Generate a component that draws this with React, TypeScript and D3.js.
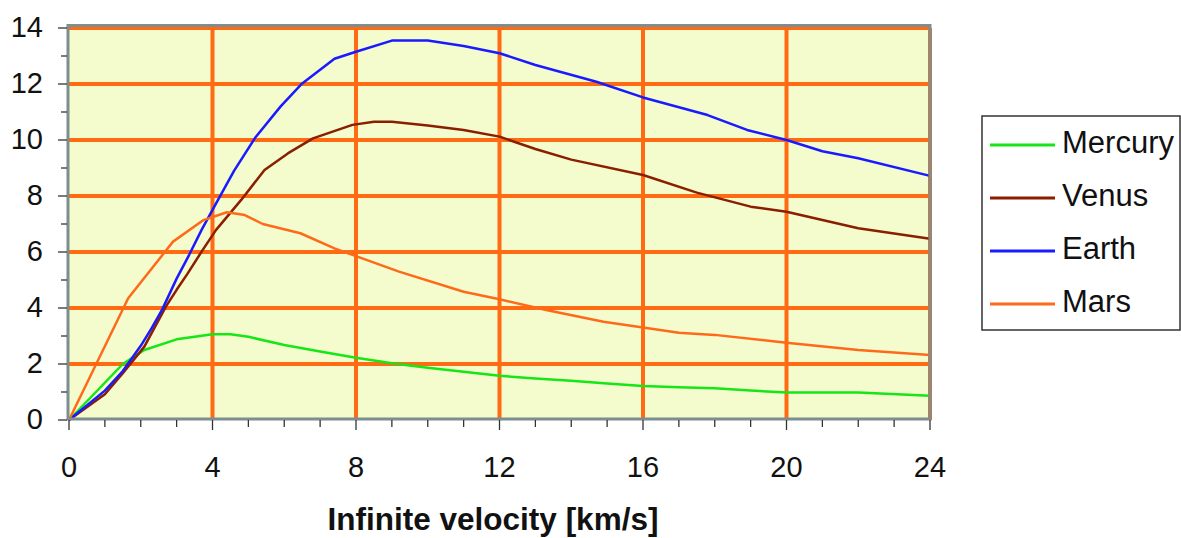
import * as d3 from "d3";

// [infinite velocity km/s, value]
const mercury: [number, number][] = [
  [0, 0], [1.5, 2.0], [2.1, 2.5], [3, 2.88], [4, 3.06], [4.5, 3.06], [5, 2.97],
  [6, 2.68], [7, 2.45], [8, 2.22], [9, 2.03], [10, 1.87], [11, 1.72], [12, 1.58],
  [13, 1.48], [14, 1.4], [15, 1.3], [16, 1.21], [17, 1.17], [18, 1.13], [19, 1.05],
  [20, 0.98], [22, 0.98], [24, 0.87],
];

const venus: [number, number][] = [
  [0, 0], [1, 0.92], [1.5, 1.67], [2.1, 2.62], [2.7, 4.05], [3.0, 4.65], [3.3, 5.22],
  [3.7, 6.02], [4.1, 6.79], [4.8, 7.86], [5.45, 8.93], [6.1, 9.52], [6.8, 10.06],
  [7.9, 10.54], [8.5, 10.65], [9, 10.65], [10, 10.52], [11, 10.36], [12, 10.12],
  [13, 9.68], [14, 9.3], [16, 8.75], [17.5, 8.12], [19, 7.62], [20, 7.44], [21, 7.14],
  [22, 6.85], [24, 6.47],
];

const earth: [number, number][] = [
  [0, 0], [1, 1.05], [1.5, 1.75], [2, 2.65], [2.3, 3.27], [2.6, 3.95], [3, 5.05],
  [3.35, 5.9], [3.7, 6.8], [4.15, 7.85], [4.6, 8.9], [5.2, 10.1], [5.9, 11.2],
  [6.5, 12.02], [7.4, 12.9], [8, 13.15], [9, 13.55], [10, 13.55], [11, 13.36],
  [12, 13.1], [13, 12.68], [14.7, 12.08], [16, 11.52], [17.8, 10.89], [18.9, 10.36],
  [20, 10.0], [21, 9.6], [22, 9.35], [24, 8.72],
];

const mars: [number, number][] = [
  [0, 0], [1.65, 4.35], [2.9, 6.37], [3.75, 7.14], [4.4, 7.42], [4.9, 7.32],
  [5.4, 7.0], [6.45, 6.67], [7.4, 6.13], [8, 5.85], [9.2, 5.3], [11, 4.58],
  [12, 4.31], [13.3, 3.93], [14.9, 3.51], [16, 3.3], [17, 3.12], [18, 3.04],
  [20, 2.76], [22, 2.5], [24, 2.32],
];

const seriesNames = ["Mercury", "Venus", "Earth", "Mars"];
const seriesColors = ["#16E616", "#8A1E00", "#1A1AFF", "#FF6A1A"];
const seriesData = [mercury, venus, earth, mars];

const xTickLabels = [0, 4, 8, 12, 16, 20, 24];
const yTickLabels = [0, 2, 4, 6, 8, 10, 12, 14];
const xTitle = "Infinite velocity [km/s]";

const width = 1181;
const height = 538;
const grid = "#FF6A13";
const font = "'Liberation Sans', Arial, sans-serif";

export default function App() {
  const x = d3.scaleLinear([0, 24], [69, 930]);
  const y = d3.scaleLinear([0, 14], [420, 28]);

  const line = d3
    .line<[number, number]>()
    .x((d) => x(d[0]))
    .y((d) => y(d[1]));

  const minorX = d3.range(0, 25);
  const minorY = d3.range(0, 15);

  return (
    <div style={{ position: "absolute", left: 0, top: 0 }}>
      <svg width={width} height={height} style={{ display: "block" }}>
        {/* plot background */}
        <rect x={x(0)} y={y(14) - 2} width={x(24) - x(0)} height={y(0) - y(14) + 1} fill="#F4FBCC" />

        {/* orange grid */}
        {yTickLabels.slice(1).map((t) => (
          <line key={"gy" + t} x1={x(0)} x2={x(24)} y1={y(t)} y2={y(t)} stroke={grid} strokeWidth={4} />
        ))}
        {xTickLabels.slice(1).map((t) => (
          <line key={"gx" + t} x1={x(t)} x2={x(t)} y1={y(14)} y2={y(0)} stroke={grid} strokeWidth={4} />
        ))}

        {/* series */}
        {seriesData.map((d, i) => (
          <path
            key={seriesNames[i]}
            d={line(d) ?? ""}
            fill="none"
            stroke={seriesColors[i]}
            strokeWidth={2.5}
            strokeLinejoin="round"
          />
        ))}

        {/* gray frame */}
        <rect
          x={x(0) - 1}
          y={y(14) - 2.5}
          width={x(24) - x(0) + 1}
          height={y(0) - y(14) + 1.5}
          fill="none"
          stroke="#7C8E8E"
          strokeWidth={3}
        />

        {/* y ticks */}
        {minorY.map((t) => (
          <line
            key={"ty" + t}
            x1={t % 2 === 0 ? 58 : 61}
            x2={67}
            y1={y(t)}
            y2={y(t)}
            stroke="#333"
            strokeWidth={1.3}
          />
        ))}
        {yTickLabels.map((t) => (
          <text
            key={"ly" + t}
            x={43}
            y={y(t) + 9}
            textAnchor="end"
            fontFamily={font}
            fontSize={29}
            fill="#111"
          >
            {t}
          </text>
        ))}

        {/* x ticks */}
        {minorX.map((t) => (
          <line
            key={"tx" + t}
            x1={x(t)}
            x2={x(t)}
            y1={420}
            y2={t % 4 === 0 ? 430 : 427}
            stroke="#333"
            strokeWidth={1.3}
          />
        ))}
        {xTickLabels.map((t) => (
          <text
            key={"lx" + t}
            x={x(t)}
            y={477}
            textAnchor="middle"
            fontFamily={font}
            fontSize={29}
            fill="#111"
          >
            {t}
          </text>
        ))}

        <text
          x={493}
          y={530}
          textAnchor="middle"
          fontFamily={font}
          fontSize={31.5}
          fontWeight="bold"
          fill="#111"
        >
          {xTitle}
        </text>

        {/* legend */}
        <rect x={982} y={116} width={198} height={214} fill="#fff" stroke="#333" strokeWidth={1.5} />
        {seriesNames.map((name, i) => {
          const ry = 145 + i * 53;
          return (
            <g key={"lg" + name}>
              <line x1={990} x2={1055} y1={ry} y2={ry} stroke={seriesColors[i]} strokeWidth={3} />
              <text x={1062} y={ry + 8} fontFamily={font} fontSize={31} fill="#111">
                {name}
              </text>
            </g>
          );
        })}
      </svg>
    </div>
  );
}
